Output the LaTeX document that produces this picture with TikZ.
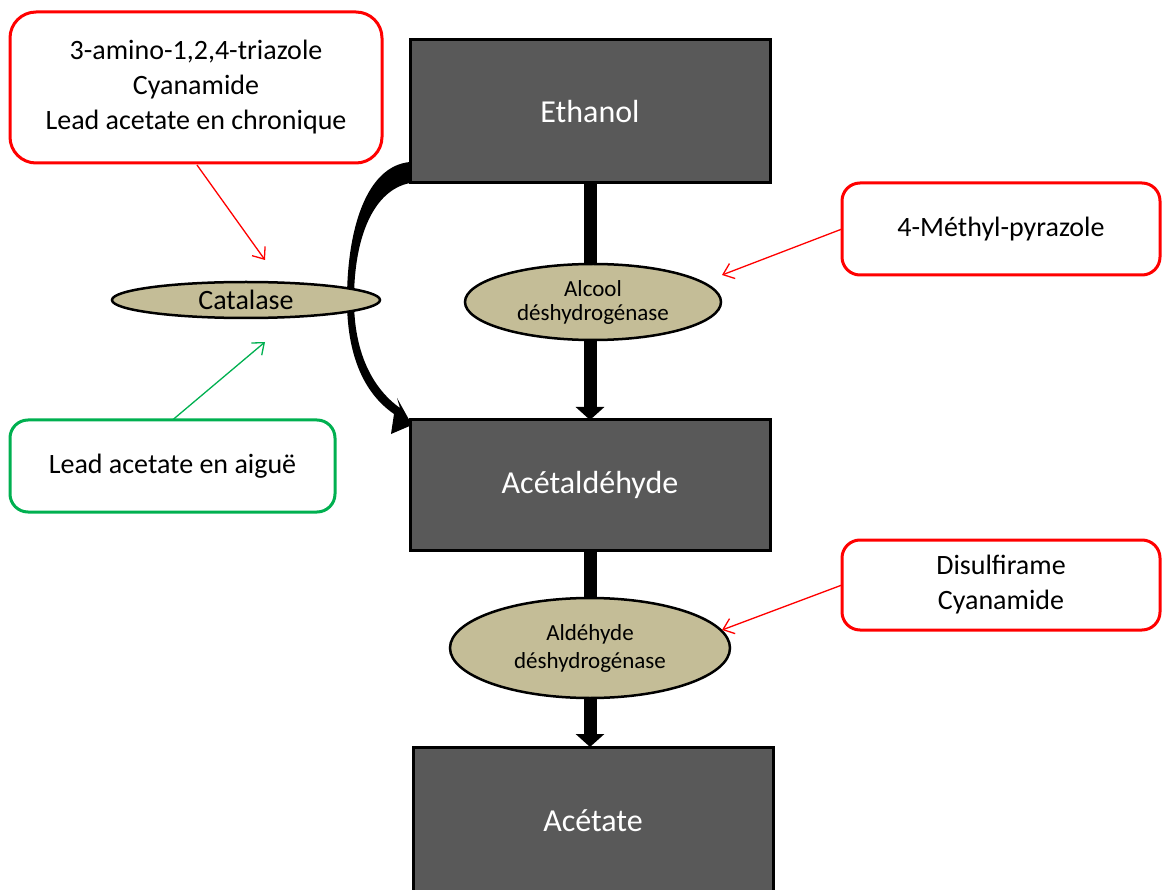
\documentclass[tikz,border=0pt]{standalone}
\usepackage{fontspec}
\setmainfont{Carlito}
\usetikzlibrary{arrows.meta,calc,shapes.geometric}
\definecolor{boxgray}{HTML}{595959}
\definecolor{enz}{HTML}{C4BD97}
\definecolor{inhred}{HTML}{FF0000}
\definecolor{actgreen}{HTML}{00B050}
\begin{document}
\begin{tikzpicture}[x=1pt,y=-1pt,
  metab/.style={draw=black, line width=3pt, fill=boxgray, text=white, inner sep=0pt, outer sep=0pt,
    minimum width=360pt, font=\fontsize{32}{38}\selectfont},
  enzyme/.style={ellipse, draw=black, line width=2.5pt, fill=enz, inner sep=0pt, outer sep=0pt, align=center},
  note/.style={rounded corners=22pt, line width=3pt, fill=white, inner sep=0pt, outer sep=0pt, align=center,
    font=\fontsize{28}{35}\selectfont},
  inhib/.style={draw=inhred, line width=1.3pt, -{Straight Barb[length=10pt,width=16pt]}},
  activ/.style={draw=actgreen, line width=1.3pt, -{Straight Barb[length=10pt,width=16pt]}},
  flow/.style={draw=black, line width=13pt, -{Triangle[width=28pt,length=13pt]}}
]
\useasboundingbox (0,0) rectangle (1162,890);
\clip (0,0) rectangle (1162,890);

% metabolite boxes
\node[metab, minimum height=143pt] (eth) at (590,111.5) {Ethanol};
\node[metab, minimum height=130pt] (acet) at (590,485) {Acétaldéhyde};
\node[metab, minimum height=146pt] (acetate) at (593,820) {};
\node[text=white, font=\fontsize{32}{38}\selectfont] (acetatelbl) at (593,821) {Acétate};

% main flow arrows
\draw[flow] (eth.south) -- (acet.north);
\draw[flow] (acet.south) -- (acet.south |- acetate.north);

% curved catalase arrow (tapered, filled)
\coordinate (ct1) at ($(eth.south west)+(0,-21)$);
\coordinate (ct2) at (eth.south west);
\coordinate (ctip) at ($(acet.north west)+(2,5)$);
\fill[black]
  (ct1) .. controls (366,166) and (347,230) .. (347,300)
        .. controls (347,352) and (362,392) .. (394,414)
  -- (391,434) -- (ctip) -- (397,398)
  -- (400,408)
        .. controls (372,388) and (354,352) .. (354,300)
        .. controls (354,236) and (374,190) .. (ct2) -- cycle;

% enzymes
\node[enzyme, minimum width=256pt, minimum height=76pt, font=\fontsize{23}{24}\selectfont] (adh) at (593,302) {Alcool\\déshydrogénase};
\node[enzyme, minimum width=280pt, minimum height=100pt, font=\fontsize{23}{28}\selectfont] (aldh) at (590,648) {Aldéhyde\\déshydrogénase};
\node[enzyme, minimum width=268pt, minimum height=36pt, font=\fontsize{28}{34}\selectfont] (cat) at (246,300) {Catalase};

% modulators
\node[note, draw=inhred, minimum width=372pt, minimum height=151pt, rounded corners=26pt] (tri) at (196,87.5)
  {3-amino-1,2,4-triazole\\Cyanamide\\Lead acetate en chronique};
\node[note, draw=actgreen, minimum width=325pt, minimum height=92pt, rounded corners=18pt] (lead) at (172.5,466)
  {Lead acetate en aiguë};
\node[note, draw=inhred, minimum width=318pt, minimum height=92pt, rounded corners=18pt] (meth) at (1001,229)
  {4-Méthyl-pyrazole};
\node[note, draw=inhred, minimum width=318pt, minimum height=90pt, rounded corners=18pt] (dis) at (1001,585)
  {Disulfirame\\Cyanamide};

% modulator arrows
\coordinate (catup) at (265,260);
\coordinate (catdown) at (265,342);
\coordinate (adhR) at (722,275);
\coordinate (aldhR) at (722,630);
\draw[inhib] (tri.south) ++(1,2) -- (catup);
\draw[activ] (lead.north) -- (catdown);
\draw[inhib] (meth.west) -- (adhR);
\draw[inhib] (dis.west) -- (aldhR);
\end{tikzpicture}
\end{document}
